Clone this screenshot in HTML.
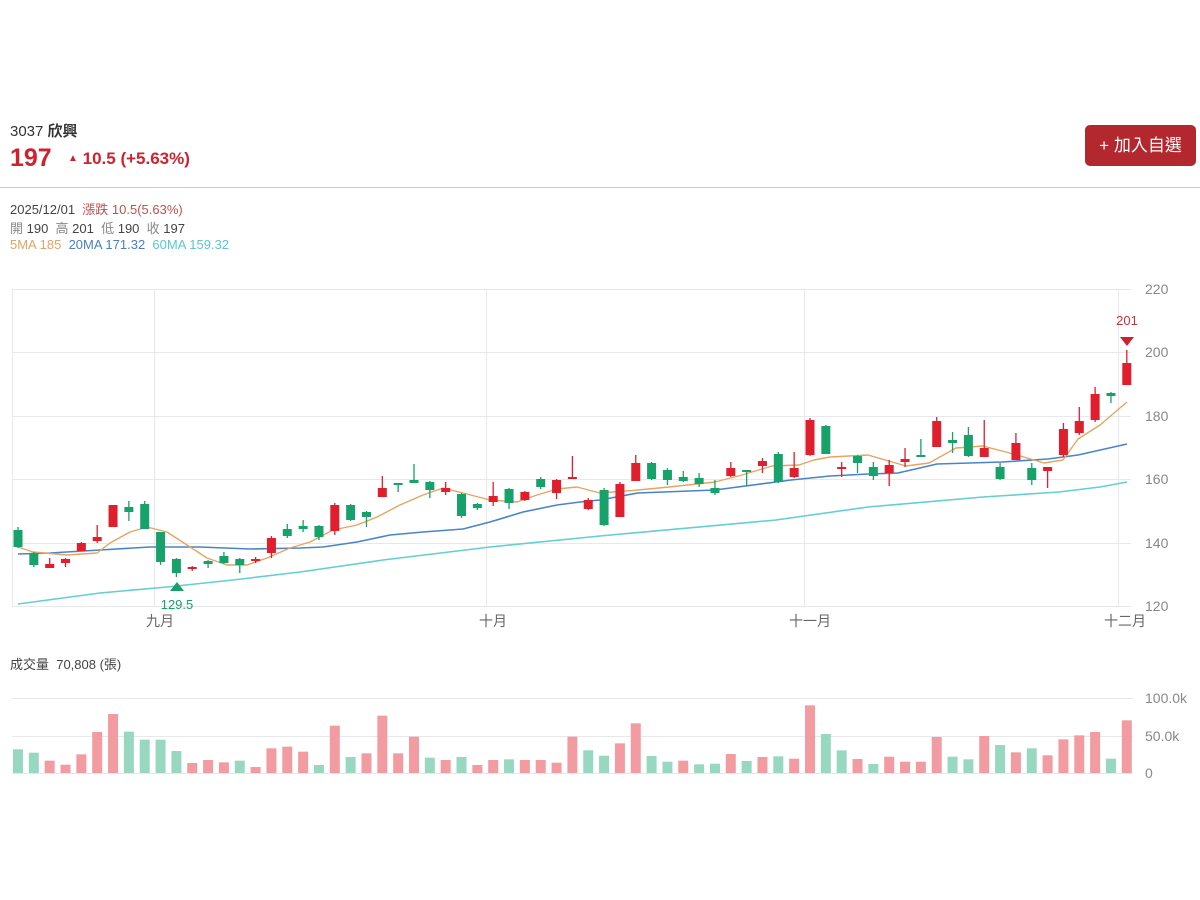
<!DOCTYPE html>
<html><head><meta charset="utf-8">
<style>
body{margin:0;width:1200px;height:900px;background:#fff;font-family:"Liberation Sans","Noto Sans CJK TC",sans-serif;overflow:hidden;position:relative}
.t{position:absolute;white-space:nowrap}
</style></head><body>
<div class="t" style="left:10px;top:120px;font-size:15px;color:#333">3037 <b>欣興</b></div>
<div class="t" style="left:10px;top:144px;font-size:25px;font-weight:bold;color:#d0222d">197</div>
<div class="t" style="left:68px;top:149px;font-size:17px;font-weight:bold;color:#d0222d"><span style="font-size:10px;vertical-align:3px">▲</span> 10.5 (+5.63%)</div>
<div class="t" style="left:1085px;top:125px;width:111px;height:41px;background:#b3272e;border-radius:5px;color:#fff;font-size:17px;line-height:41px;text-align:center">+ 加入自選</div>
<div style="position:absolute;left:0;top:187px;width:1200px;height:1px;background:#ccc"></div>
<div class="t" style="left:10px;top:199px;font-size:13px;color:#444">2025/12/01 &nbsp;<span style="color:#c0504d">漲跌 10.5(5.63%)</span></div>
<div class="t" style="left:10px;top:218px;font-size:13px;color:#444"><span style="color:#888">開</span> 190 &nbsp;<span style="color:#888">高</span> 201 &nbsp;<span style="color:#888">低</span> 190 &nbsp;<span style="color:#888">收</span> 197</div>
<div class="t" style="left:10px;top:237px;font-size:13px"><span style="color:#e3a26a">5MA 185</span> &nbsp;<span style="color:#4a7fc0">20MA 171.32</span> &nbsp;<span style="color:#5cc8cc">60MA 159.32</span></div>
<div class="t" style="left:10px;top:654px;font-size:13px;color:#444">成交量 &nbsp;70,808 (張)</div>
<svg id="s" width="1200" height="900" style="position:absolute;left:0;top:0" font-family="Liberation Sans, Noto Sans CJK TC, sans-serif">
<g stroke="#e6e8ee" stroke-width="1">
<line x1="12" y1="289.5" x2="1131" y2="289.5"/><line x1="12" y1="352.5" x2="1131" y2="352.5"/><line x1="12" y1="416.5" x2="1131" y2="416.5"/><line x1="12" y1="479.5" x2="1131" y2="479.5"/><line x1="12" y1="543.5" x2="1131" y2="543.5"/><line x1="12" y1="606.5" x2="1131" y2="606.5"/>
<line x1="12.5" y1="289" x2="12.5" y2="606"/><line x1="154.5" y1="289" x2="154.5" y2="606"/><line x1="486.5" y1="289" x2="486.5" y2="606"/><line x1="804.5" y1="289" x2="804.5" y2="606"/><line x1="1118.5" y1="289" x2="1118.5" y2="606"/>
<line x1="12" y1="698.5" x2="1133" y2="698.5"/><line x1="12" y1="736.5" x2="1133" y2="736.5"/><line x1="12" y1="773.5" x2="1133" y2="773.5"/>
</g>
<g fill="#888" font-size="14">
<text x="1145" y="294">220</text><text x="1145" y="357">200</text><text x="1145" y="421">180</text><text x="1145" y="484">160</text><text x="1145" y="548">140</text><text x="1145" y="611">120</text>
<text x="1145" y="703">100.0k</text><text x="1145" y="741">50.0k</text><text x="1145" y="778">0</text>
</g>
<g fill="#666" font-size="14" text-anchor="middle">
<text x="160" y="626">九月</text><text x="493" y="626">十月</text><text x="810" y="626">十一月</text><text x="1125" y="626">十二月</text>
</g>
<g id="vol"></g><g id="ma"></g><g id="cd"></g>
<text x="1127" y="325" fill="#c8323a" font-size="13" text-anchor="middle">201</text>
<path d="M1120 337 L1134 337 L1127 346 Z" fill="#d0222d"/>
<path d="M170 591 L184 591 L177 582 Z" fill="#16a06a"/>
<text x="177" y="609" fill="#16a06a" font-size="13" text-anchor="middle">129.5</text>
</svg>
<script>
var NS="http://www.w3.org/2000/svg";
function el(p,t,a){var e=document.createElementNS(NS,t);for(var k in a)e.setAttribute(k,a[k]);p.appendChild(e);return e;}
function X(i){return 18+i*15.84;}
// [bodyTop, bodyBot, wickTop, wickBot, color]
var C=[[530,547,527,548,'G'],[553,565,552,567,'G'],[564,568,558,568,'R'],[559,563,558,567,'R'],[543,551,542,551,'R'],[537,541,525,543,'R'],[505,527,505,527,'R'],[507,512,501,521,'G'],[504,529,501,529,'G'],[532,562,532,565,'G'],[559,573,558,577,'G'],[567,569,566,571,'R'],[561,564,560,568,'G'],[556,563,552,564,'G'],[559,565,558,573,'G'],[559,561,557,563,'R'],[538,553,536,558,'R'],[529,536,524,538,'G'],[526,529,520,532,'G'],[526,537,525,540,'G'],[505,531,503,535,'R'],[505,520,504,521,'G'],[512,517,511,527,'G'],[488,497,476,497,'R'],[483,485,483,492,'G'],[480,483,464,483,'G'],[482,490,481,498,'G'],[488,492,482,495,'R'],[494,516,493,518,'G'],[504,508,503,510,'G'],[496,502,482,506,'R'],[489,503,488,509,'G'],[492,500,491,501,'R'],[479,487,477,489,'G'],[480,493,479,499,'R'],[477,478,456,478,'R'],[500,509,498,510,'R'],[490,525,488,526,'G'],[484,517,482,517,'R'],[463,481,455,481,'R'],[463,479,462,480,'G'],[470,480,468,485,'G'],[477,481,471,482,'G'],[478,484,473,487,'G'],[488,493,480,495,'G'],[468,476,462,477,'R'],[470,472,470,486,'G'],[461,466,458,473,'R'],[454,482,452,483,'G'],[468,477,452,478,'R'],[420,455,418,456,'R'],[426,454,425,454,'G'],[467,469,462,477,'R'],[456,463,455,473,'G'],[467,476,462,480,'G'],[465,473,460,486,'R'],[459,462,448,467,'R'],[455,457,439,457,'G'],[421,447,417,447,'R'],[440,443,432,453,'G'],[435,456,427,457,'G'],[448,457,420,457,'R'],[467,479,463,480,'G'],[443,460,433,460,'R'],[468,480,463,485,'G'],[467,471,467,488,'R'],[429,455,423,457,'R'],[421,433,407,435,'R'],[394,420,387,422,'R'],[393,396,392,403,'G'],[363,385,350,385,'R']];
var cd=document.getElementById('cd');
C.forEach(function(c,i){var x=X(i),col=c[4]=='R'?'#df1f2d':'#17a16b';
el(cd,'line',{x1:x,x2:x,y1:c[2],y2:c[3],stroke:col,'stroke-width':1.3});
el(cd,'rect',{x:x-4.5,y:c[0],width:9,height:Math.max(2,c[1]-c[0]),fill:col});});
var V=[328,338,362,374,343,276,222,275,299,299,333,369,360,367,362,381,325,320,335,375,257,351,340,227,340,290,353,360,351,375,360,358,360,360,368,290,331,347,310,250,348,365,362,373,371,342,363,351,349,356,196,282,331,357,372,350,365,365,291,350,358,288,315,337,325,346,298,286,276,356,241];
var VC="GGRRRRRGGGGRRRGRRRRGRGRRRRGRGRRGRRRRGGRRGGRGGRGRGRRGGRGRRRRGGRGRGRRRRGR";
var vg=document.getElementById('vol');
V.forEach(function(t,i){var y=640+t/3;el(vg,'rect',{x:X(i)-5,y:y,width:10,height:773-y,fill:VC[i]=='R'?'#f29ca1':'#98d8c1'});});
var mg=document.getElementById('ma');
function line(pts,col,w){el(mg,'polyline',{points:pts.map(function(p){return p.join(',')}).join(' '),fill:'none',stroke:col,'stroke-width':w,'stroke-linejoin':'round'});}
line([[18,604],[100,593],[167,587],[233,580],[300,572],[383,560],[490,547],[600,536],[776,520],[868,507],[983,497],[1059,492],[1100,487],[1127,482]],'#62cfd2',1.6);
line([[18,554],[50,553],[100,550],[150,547],[200,547],[250,549],[300,548],[323,547],[357,542],[390,535],[423,532],[463,529],[490,522],[523,512],[557,505],[580,502],[600,500],[638,493],[715,490],[791,480],[830,476],[868,474],[898,473],[937,464],[1002,462],[1048,459],[1078,455],[1127,444]],'#4a84c6',1.6);
line([[18,547],[33,552],[67,555],[97,553],[110,543],[130,532],[147,527],[167,532],[187,545],[207,558],[227,565],[247,565],[267,558],[290,548],[310,542],[333,530],[357,525],[377,517],[400,505],[423,495],[443,488],[463,493],[490,500],[517,502],[537,495],[557,489],[577,487],[600,493],[638,490],[669,487],[715,482],[742,475],[772,466],[799,465],[814,460],[830,457],[868,455],[906,466],[929,463],[956,448],[983,446],[1017,455],[1044,463],[1063,460],[1078,439],[1100,425],[1127,402]],'#e6a461',1.4);
</script>
</body></html>
